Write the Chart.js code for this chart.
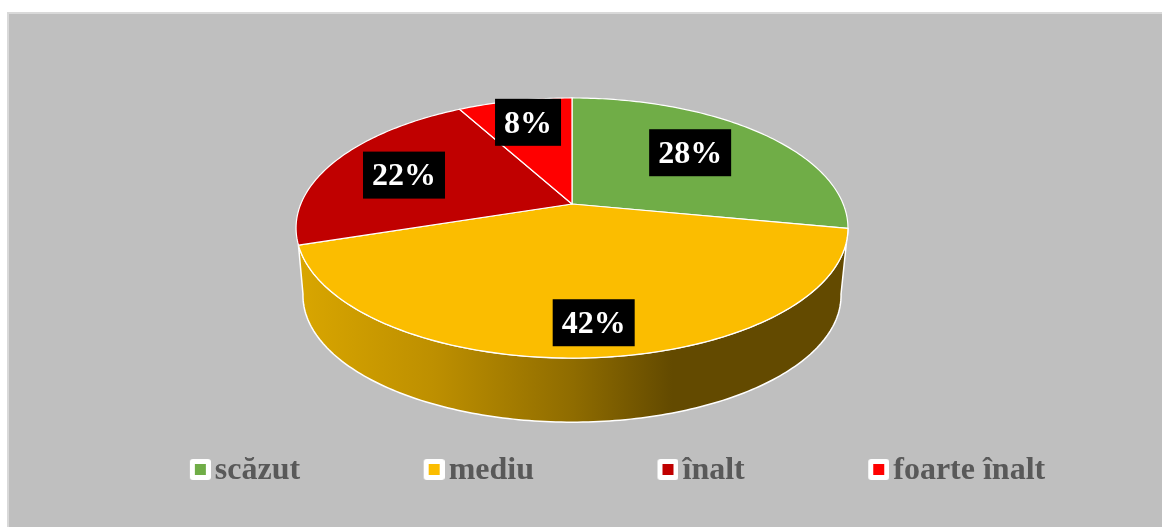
<!DOCTYPE html>
<html>
<head>
<meta charset="utf-8">
<title>Pie</title>
<script src="https://cdn.jsdelivr.net/npm/chart.js@4"></script>
<style>
  html, body { margin: 0; padding: 0; background: #fff; }
  canvas { display: block; }
</style>
</head>
<body>
<canvas id="pie" width="1162" height="527"></canvas>
<script>
const categories = ["scăzut", "mediu", "înalt", "foarte înalt"];
const percents = [28, 42, 22, 8];
const sliceColors = ["#70AD47", "#FBBD00", "#C00000", "#FF0000"];

// label boxes: nudge from the default spot inside each slice
const labelNudge = [[-17, 0.5], [8, 18], [0.5, 2], [-2, -6]];

// perspective of the pie top, fitted on the picture
const apex = { x: 572, y: 204 };
const tilt = 0.1846, spreadX = 271.2, spreadY = 125.6;
// the bottom plane of the disc
const depth = 68, bottomScale = 0.975;
// where the side wall turns away, in degrees clockwise from the top
const wallFrom = 100, wallTo = 260;

const FONT = '"Liberation Serif", "Times New Roman", serif';
const LEGEND_GAP = 131.5, LEGEND_ROW_Y = 471, LEGEND_SHIFT_X = 40.5;

function project(angle, frac, bottom) {
  const u = Math.cos(angle) * frac, v = -Math.sin(angle) * frac;
  const d = 1 + tilt * v;
  const s = bottom ? bottomScale : 1;
  return {
    x: apex.x + s * spreadX * u / d,
    y: apex.y + (bottom ? depth : 0) - s * spreadY * v / d
  };
}

function traceRim(ctx, from, to, bottom) {
  const steps = Math.max(2, Math.ceil(Math.abs(to - from) * 60));
  for (let i = 0; i <= steps; i++) {
    const p = project(from + (to - from) * i / steps, 1, bottom);
    ctx.lineTo(p.x, p.y);
  }
}

const clockAngle = deg => (deg - 90) * Math.PI / 180;

function drawWall(ctx, arc) {
  const grad = ctx.createLinearGradient(298, 0, 848, 0);
  grad.addColorStop(0, "#D9A600");
  grad.addColorStop(0.25, "#BD8F00");
  grad.addColorStop(0.5, "#8F6C00");
  grad.addColorStop(0.68, "#634A00");
  grad.addColorStop(1, "#634A00");
  ctx.beginPath();
  traceRim(ctx, arc.startAngle, arc.endAngle, false);
  traceRim(ctx, clockAngle(wallTo), clockAngle(wallFrom), true);
  ctx.closePath();
  ctx.fillStyle = grad;
  ctx.fill();
  ctx.strokeStyle = "#fff";
  ctx.lineWidth = 1.5;
  ctx.stroke();
}

function drawSlice(ctx, arc) {
  ctx.beginPath();
  ctx.moveTo(apex.x, apex.y);
  traceRim(ctx, arc.startAngle, arc.endAngle, false);
  ctx.closePath();
  ctx.fillStyle = arc.options.backgroundColor;
  ctx.fill();
  ctx.strokeStyle = arc.options.borderColor;
  ctx.lineWidth = arc.options.borderWidth;
  ctx.stroke();
}

const tiltedPie = {
  id: "tiltedPie",
  beforeDraw(chart) {
    const ctx = chart.ctx;
    ctx.save();
    ctx.fillStyle = "#D9D9D9";
    ctx.fillRect(7, 12, chart.width - 7, chart.height - 12);
    ctx.fillStyle = "#BFBFBF";
    ctx.fillRect(9, 14, chart.width - 9, chart.height - 14);
    ctx.restore();
  },
  afterLayout(chart) {
    // the wide legend padding also makes the box tall, move it to its row
    const legend = chart.legend;
    const shift = LEGEND_ROW_Y - 16 - LEGEND_GAP - legend.top;
    legend.top += shift;
    legend.bottom += shift;
    legend.left += LEGEND_SHIFT_X;
    legend.right += LEGEND_SHIFT_X;
  },
  beforeDatasetDraw(chart, args) {
    const ctx = chart.ctx;
    const arcs = args.meta.data;
    ctx.save();
    ctx.lineJoin = "round";
    // only the slice facing the viewer shows its side
    const front = Math.PI / 2;
    arcs.filter(a => a.startAngle <= front && a.endAngle >= front).forEach(a => drawWall(ctx, a));
    arcs.forEach(a => drawSlice(ctx, a));
    ctx.restore();
    return false;
  },
  afterDatasetsDraw(chart) {
    const ctx = chart.ctx;
    const arcs = chart.getDatasetMeta(0).data;
    ctx.save();
    ctx.font = "bold 32px " + FONT;
    ctx.textAlign = "center";
    ctx.textBaseline = "middle";
    arcs.forEach((arc, i) => {
      const p = project((arc.startAngle + arc.endAngle) / 2, 0.7, false);
      const x = p.x + labelNudge[i][0], y = p.y + labelNudge[i][1];
      const text = percents[i] + "%";
      const w = ctx.measureText(text).width + 18;
      ctx.fillStyle = "#000";
      ctx.fillRect(x - w / 2, y - 23.5, w, 47);
      ctx.fillStyle = "#fff";
      ctx.fillText(text, x, y + 2);
    });
    ctx.restore();
  }
};

// legend marker: white rounded square with the colour inside, set off to the right and up in its image
function legendMarker(color) {
  const c = document.createElement("canvas");
  c.width = 25;
  c.height = 24;
  const g = c.getContext("2d");
  g.fillStyle = "#fff";
  g.beginPath();
  g.roundRect(4, 0, 21, 21, 3);
  g.fill();
  g.fillStyle = color;
  g.fillRect(9, 5, 11, 11);
  return c;
}

new Chart(document.getElementById("pie"), {
  type: "pie",
  data: {
    labels: categories,
    datasets: [{
      data: percents,
      backgroundColor: sliceColors,
      borderColor: "#fff",
      borderWidth: 1.2
    }]
  },
  options: {
    responsive: false,
    animation: false,
    events: [],
    plugins: {
      tooltip: { enabled: false },
      legend: {
        position: "bottom",
        labels: {
          usePointStyle: true,
          pointStyleWidth: 1,
          padding: LEGEND_GAP,
          color: "#595959",
          font: { family: FONT, size: 32, weight: "bold" },
          generateLabels: () => categories.map((name, i) => ({
            text: name,
            fontColor: "#595959",
            pointStyle: legendMarker(sliceColors[i]),
            datasetIndex: 0,
            index: i
          }))
        }
      }
    }
  },
  plugins: [tiltedPie]
});
</script>
</body>
</html>
